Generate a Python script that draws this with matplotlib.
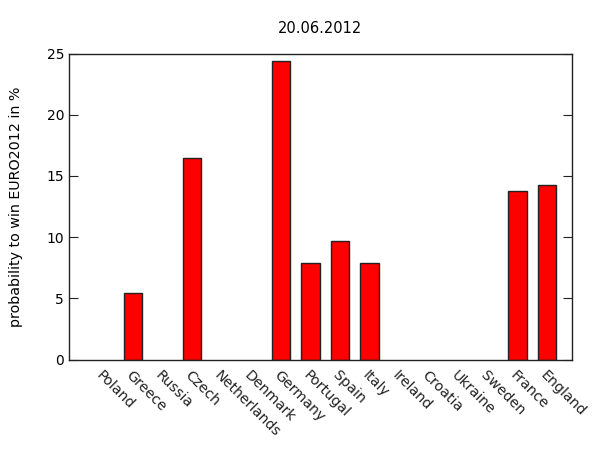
import numpy as np
import matplotlib
matplotlib.use("Agg")
import matplotlib.pyplot as plt

teams = ["Poland", "Greece", "Russia", "Czech", "Netherlands", "Denmark",
         "Germany", "Portugal", "Spain", "Italy", "Ireland", "Croatia",
         "Ukraine", "Sweden", "France", "England"]
probs = [0.0, 5.4, 0.0, 16.5, 0.0, 0.0, 24.4, 7.9, 9.7, 7.9,
         0.0, 0.0, 0.0, 0.0, 13.8, 14.3]
title = "20.06.2012"
ylabel = "probability to win EURO2012 in %"

plt.rcParams['font.family'] = ['DejaVu Sans']
plt.rcParams['font.size'] = 10

fig = plt.figure(figsize=(6, 4.5), dpi=100)
ax = fig.add_axes([0.115, 0.201, 0.838, 0.68])

x = np.arange(len(teams))
# zero-height bars get no outline, like the original
widths = [1.0 if p > 0 else 0.0 for p in probs]
ax.bar(x, probs, width=0.62, color='#ff0000', edgecolor='#222222', linewidth=widths)

ax.set_xlim(-1.16, 15.83)
ax.set_ylim(0, 25)
ax.set_yticks([0, 5, 10, 15, 20, 25])
ax.set_xticks(x)
ax.set_xticklabels(teams, rotation=-45, ha='left', va='top',
                   rotation_mode='anchor', color='#222222', fontsize=10.3)
ax.tick_params(axis='x', length=0, pad=6)
ax.tick_params(axis='y', direction='in', length=6.5, right=True, color='#222222')
ax.set_ylabel(ylabel, fontsize=10.3, labelpad=17)
ax.set_title(title, pad=15, fontsize=10.5)
for s in ax.spines.values():
    s.set_linewidth(1.0)
    s.set_color('#222222')

fig.savefig("out.png", dpi=100)
